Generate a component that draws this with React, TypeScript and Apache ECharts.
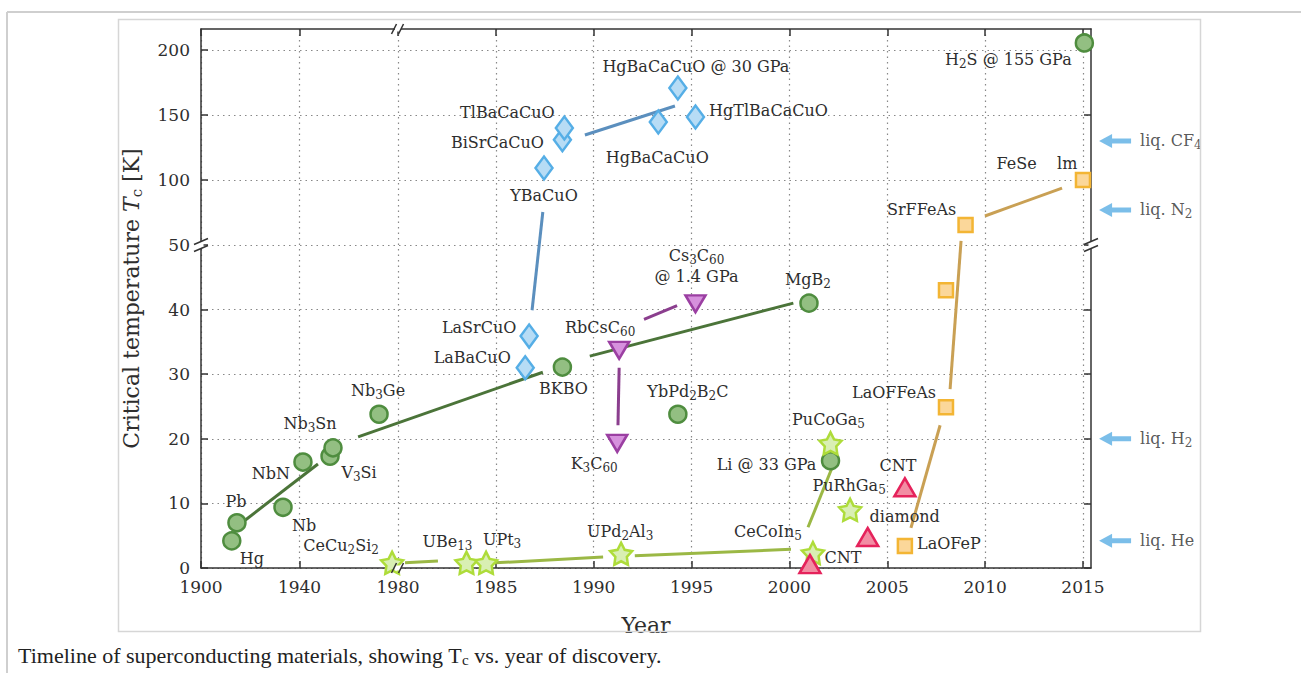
import React, { useEffect, useRef } from 'react';
import * as echarts from 'echarts';

// ---------- axis ticks ----------
const X_TICKS = [1900, 1940, 1980, 1985, 1990, 1995, 2000, 2005, 2010, 2015];
const Y_TICKS = [0, 10, 20, 30, 40, 50, 100, 150, 200];

// ---------- conventional / BCS-like (green circles) ----------
const convNames = ['Hg', 'Pb', 'Nb', 'NbN', 'V{s|3}Si', 'Nb{s|3}Sn', 'Nb{s|3}Ge', 'BKBO', 'YbPd{s|2}B{s|2}C', 'MgB{s|2}', 'Li @ 33 GPa', 'H{s|2}S @ 155 GPa'];
const convYears = [1912.5, 1914.6, 1933.3, 1941.4, 1952.4, 1953.6, 1972.3, 1988.4, 1994.3, 2001.0, 2002.1, 2015.07];
const convTc = [4.2, 7.0, 9.4, 16.4, 17.3, 18.6, 23.8, 31.1, 23.8, 41.0, 16.6, 205.4];
const convOffsets = [[20, 18], [-1, -21], [21, 18], [-32, 11], [29, 16], [-23, -24], [-1, -24], [1, 21], [10, -23], [-1, -24], [-64, 4], [-76, 17]];

// ---------- cuprates (blue diamonds) ----------
const cupNames = ['LaBaCuO', 'LaSrCuO', 'YBaCuO', 'BiSrCaCuO', 'TlBaCaCuO', 'HgBaCaCuO', 'HgBaCaCuO @ 30 GPa', 'HgTlBaCaCuO'];
const cupYears = [1986.5, 1986.7, 1987.46, 1988.4, 1988.5, 1993.3, 1994.3, 1995.2];
const cupTc = [31.0, 35.9, 109.2, 131, 140, 144.6, 170.8, 148.5];
const cupOffsets = [[-53, -10], [-50, -9], [0, 27], [-65, 3], [-57, -15], [-1, 35], [18, -21], [73, -6]];

// ---------- fullerides (purple down-triangles) ----------
const fulNames = ['RbCsC{s|60}', 'Cs{s|3}C{s|60}\n@ 1.4 GPa', 'K{s|3}C{s|60}'];
const fulYears = [1991.3, 1995.2, 1991.2];
const fulTc = [33.7, 40.9, 19.3];
const fulOffsets = [[-19, -23], [1, -38], [-23, 20]];

// ---------- heavy fermions (stars) ----------
const hfNames = ['CeCu{s|2}Si{s|2}', 'UBe{s|13}', 'UPt{s|3}', 'UPd{s|2}Al{s|3}', 'CeCoIn{s|5}', 'PuCoGa{s|5}', 'PuRhGa{s|5}'];
const hfYears = [1977.6, 1983.5, 1984.5, 1991.4, 2001.2, 2002.1, 2003.1];
const hfTc = [0.8, 0.8, 0.8, 2.2, 2.3, 19.3, 9.0];
const hfOffsets = [[-51, -17], [-19, -21], [16, -23], [-1, -22], [-45, -22], [-2, -24], [-1, -24]];

// ---------- carbon allotropes (pink up-triangles) ----------
const carbNames = ['CNT', 'diamond', 'CNT'];
const carbYears = [2001.05, 2004.0, 2005.9];
const carbTc = [0.6, 4.8, 12.5];
const carbOffsets = [[33, -7], [37, -20], [-7, -22]];

// ---------- iron-based (yellow squares) ----------
const feNames = ['LaOFeP', 'LaOFFeAs', '', 'SrFFeAs', 'FeSe    lm'];
const feYears = [2005.9, 2008.0, 2008.0, 2009.0, 2015.0];
const feTc = [3.4, 24.9, 43.0, 65.4, 100];
const feOffsets = [[44, -3], [-52, -15], [0, 0], [-44, -15], [-46, -16]];

// ---------- trend line segments [year, Tc] ----------
const convTrend = [[[1917.9, 7.4], [1947.5, 16.1]], [[1963.8, 20.3], [1987.4, 30.3]], [[1989.8, 32.8], [2000.2, 41.0]]];
const cupTrend = [[[1986.85, 39.9], [1987.4, 75.4]], [[1989.55, 134.6], [1994.15, 156.9]]];
const fulTrend = [[[1992.57, 38.5], [1994.26, 40.6]], [[1991.3, 31.0], [1991.24, 22.1]]];
const hfTrend = [[[1980.36, 0.8], [1982.04, 1.1]], [[1984.96, 0.8], [1990.48, 1.7]], [[1992.1, 1.9], [2000.08, 2.9]], [[2000.95, 6.3], [2002.23, 15.9]]];
const feTrend = [[[2006.21, 6.2], [2007.7, 22.1]], [[2008.21, 27.7], [2008.77, 53.1]], [[2009.99, 72.3], [2013.93, 93.8]]];

// ---------- cryogen reference levels ----------
const liqNames = ['liq. CF{s|4}', 'liq. N{s|2}', 'liq. H{s|2}', 'liq. He'];
const liqTc = [130, 77, 20, 4.2];
const LIQ_YEAR = 2016.64;

// ---------- broken-axis scale ----------
const X_LOW = 197 / 80;
const X_HIGH = 19.57;
const fx = (y: number) => (y <= 1980 ? (y - 1900) * X_LOW : 80 * X_LOW + (y - 1980) * X_HIGH);
const ix = (u: number) => (u <= 80 * X_LOW ? 1900 + u / X_LOW : 1980 + (u - 80 * X_LOW) / X_HIGH);
const Y_LOW = 6.46;
const Y_HIGH = 1.3;
const fy = (t: number) => (t <= 50 ? t * Y_LOW : 50 * Y_LOW + (t - 50) * Y_HIGH);
const iy = (v: number) => (v <= 50 * Y_LOW + 1e-6 ? v / Y_LOW : 50 + (v - 50 * Y_LOW) / Y_HIGH);
const X_MAX = fx(2015.41);
const Y_MAX = fy(216.15);

const FONT = 'DejaVu Serif';
const TXT = '#2e2e2e';
const SUB = (size: number, pad: number) => ({ fontFamily: FONT, fontSize: size, color: TXT, padding: [pad, 0, 0, 0] });

const STAR = 'path://M50,0L65.28,28.97L97.55,34.55L74.73,58.03L79.39,90.45L50,76L20.61,90.45L25.27,58.03L2.45,34.55L34.72,28.97Z';
const ARROW = 'path://M0,7L13,0L13,4.5L32,4.5L32,9.5L13,9.5L13,14Z';

function points(
  names: string[], years: number[], tcs: number[], offsets: number[][],
  symbol: string, size: any, fill: string, stroke: string, rotate = 0,
) {
  return {
    type: 'scatter',
    symbol,
    symbolSize: size,
    symbolRotate: rotate,
    clip: false,
    z: 5,
    silent: true,
    itemStyle: { color: fill, borderColor: stroke, borderWidth: 2.5, opacity: 1 },
    label: {
      show: true,
      position: 'inside',
      fontFamily: FONT,
      fontSize: 16,
      color: TXT,
      lineHeight: 21,
      rich: { s: SUB(12, 9) },
    },
    data: years.map((y, i) => ({
      value: [fx(y), fy(tcs[i])],
      label: { show: names[i] !== '', formatter: names[i], offset: offsets[i] },
    })),
  };
}

function trends(segs: number[][][], color: string) {
  return segs.map((seg) => ({
    type: 'line',
    data: seg.map(([y, t]) => [fx(y), fy(t)]),
    symbol: 'none',
    showSymbol: false,
    silent: true,
    z: 3,
    lineStyle: { color, width: 3 },
  }));
}

export default function App() {
  const ref = useRef<HTMLDivElement>(null);
  useEffect(() => {
    if (!ref.current) return;
    const chart = echarts.init(ref.current, null, { renderer: 'svg' });
    const xTickVals = X_TICKS.map(fx);
    const yTickVals = Y_TICKS.map(fy);
    const axisLine = { show: true, onZero: false, lineStyle: { color: '#333', width: 1.5 } };
    const grid = { show: true, lineStyle: { type: [1.5, 4], color: '#888', width: 1.2 } };

    const option: any = {
      animation: false,
      backgroundColor: '#fff',
      grid: { left: 201, top: 29, width: 890, height: 539, containLabel: false },
      xAxis: [
        {
          type: 'value', min: 0, max: X_MAX, position: 'bottom',
          axisLine,
          axisTick: { show: true, inside: true, length: 7, customValues: xTickVals, lineStyle: { color: '#333', width: 1.5 } },
          axisLabel: { customValues: xTickVals, formatter: (v: number) => String(Math.round(ix(v))), fontFamily: FONT, fontSize: 17, color: TXT, margin: 10 },
          splitLine: grid,
          name: 'Year', nameLocation: 'middle', nameGap: 46,
          nameTextStyle: { fontFamily: FONT, fontSize: 22, color: TXT },
        },
        {
          type: 'value', min: 0, max: X_MAX, position: 'top',
          axisLine,
          axisTick: { show: true, inside: true, length: 7, customValues: xTickVals, lineStyle: { color: '#333', width: 1.5 } },
          axisLabel: { show: false },
          splitLine: { show: false },
        },
      ],
      yAxis: [
        {
          type: 'value', min: 0, max: Y_MAX, position: 'left',
          axisLine,
          axisTick: { show: true, inside: true, length: 7, customValues: yTickVals, lineStyle: { color: '#333', width: 1.5 } },
          axisLabel: { customValues: yTickVals, formatter: (v: number) => String(Math.round(iy(v))), fontFamily: FONT, fontSize: 17, color: TXT, margin: 11 },
          splitLine: grid,
          name: 'Critical temperature {i|T}{s|c} [K]', nameLocation: 'middle', nameGap: 57,
          nameTextStyle: {
            fontFamily: FONT, fontSize: 22, color: TXT,
            rich: { i: { fontFamily: FONT, fontSize: 22, fontStyle: 'italic', color: TXT }, s: SUB(15, 10) },
          },
        },
        {
          type: 'value', min: 0, max: Y_MAX, position: 'right',
          axisLine,
          axisTick: { show: true, inside: true, length: 7, customValues: yTickVals, lineStyle: { color: '#333', width: 1.5 } },
          axisLabel: { show: false },
          splitLine: { show: false },
        },
      ],
      graphic: [
        { type: 'line', z: -1, shape: { x1: 7, y1: 12, x2: 1301, y2: 12 }, style: { stroke: '#cfcfcf', lineWidth: 2 } },
        { type: 'line', z: -1, shape: { x1: 7, y1: 12, x2: 7, y2: 673 }, style: { stroke: '#cfcfcf', lineWidth: 2 } },
        { type: 'rect', z: 50, shape: { x: 1201, y: 100, width: 40, height: 80 }, style: { fill: '#fff' } },
        { type: 'rect', z: 51, shape: { x: 118.5, y: 19.5, width: 1082, height: 612 }, style: { fill: 'none', stroke: '#d6d6d6', lineWidth: 1.5 } },
        {
          type: 'text', left: 18, top: 644, z: 10,
          style: {
            text: 'Timeline of superconducting materials, showing T{s|c} vs. year of discovery.',
            fontFamily: 'Liberation Serif', fontSize: 22, fill: '#222',
            rich: { s: { fontFamily: 'Liberation Serif', fontSize: 15, fill: '#222', padding: [9, 0, 0, 0] } },
          },
        },
      ],
      series: [
        ...trends(convTrend, '#4b7439'),
        ...trends(cupTrend, '#5b8fbe'),
        ...trends(fulTrend, '#8b3e8e'),
        ...trends(hfTrend, '#9bb845'),
        ...trends(feTrend, '#c9a054'),
        points(convNames, convYears, convTc, convOffsets, 'circle', 17, '#93bf82', '#4f8d3f'),
        points(cupNames, cupYears, cupTc, cupOffsets, 'diamond', [17, 23], '#b7dcf5', '#55aee6'),
        points(fulNames, fulYears, fulTc, fulOffsets, 'triangle', [20, 17], '#d691dd', '#9b3fa2', 180),
        points(hfNames, hfYears, hfTc, hfOffsets, STAR, 22, '#d9efb3', '#aedc3a'),
        points(carbNames, carbYears, carbTc, carbOffsets, 'triangle', [21, 18], '#f28da3', '#e5225b'),
        points(feNames, feYears, feTc, feOffsets, 'rect', 14, '#fbd79a', '#f3b534'),
        {
          type: 'scatter',
          symbol: ARROW,
          symbolSize: [32, 14],
          clip: false,
          silent: true,
          itemStyle: { color: '#5aaee4' },
          label: {
            show: true, position: 'right', distance: 9, fontFamily: FONT, fontSize: 16, color: TXT,
            rich: { s: SUB(12, 9) },
          },
          data: liqTc.map((t, i) => ({ value: [fx(LIQ_YEAR), fy(t)], label: { formatter: liqNames[i] } })),
        },
        {
          type: 'custom',
          silent: true,
          clip: false,
          z: 10,
          encode: { x: 0, y: 1 },
          data: [[fx(1980), 0, 0], [fx(1980), Y_MAX, 0], [0, fy(50), 1], [X_MAX, fy(50), 1]],
          renderItem: (params: any, api: any) => {
            const p = api.coord([api.value(0), api.value(1)]);
            const vert = api.value(2) === 1;
            const st = { stroke: '#333', lineWidth: 1.5 };
            if (vert) {
              return {
                type: 'group',
                children: [
                  { type: 'rect', shape: { x: p[0] - 2.5, y: p[1] - 3, width: 5, height: 6 }, style: { fill: '#fff' } },
                  { type: 'line', shape: { x1: p[0] - 7, y1: p[1] - 0.5, x2: p[0] + 7, y2: p[1] - 6.5 }, style: st },
                  { type: 'line', shape: { x1: p[0] - 7, y1: p[1] + 6.5, x2: p[0] + 7, y2: p[1] + 0.5 }, style: st },
                ],
              };
            }
            return {
              type: 'group',
              children: [
                { type: 'rect', shape: { x: p[0] - 3, y: p[1] - 2.5, width: 6, height: 5 }, style: { fill: '#fff' } },
                { type: 'line', shape: { x1: p[0] - 6.5, y1: p[1] + 5, x2: p[0] - 1.5, y2: p[1] - 5 }, style: st },
                { type: 'line', shape: { x1: p[0] + 0.5, y1: p[1] + 5, x2: p[0] + 5.5, y2: p[1] - 5 }, style: st },
              ],
            };
          },
        },
      ],
    };
    chart.setOption(option);
    return () => chart.dispose();
  }, []);
  return <div ref={ref} style={{ position: 'fixed', left: 0, top: 0, width: 1301, height: 673, background: '#fff' }} />;
}
